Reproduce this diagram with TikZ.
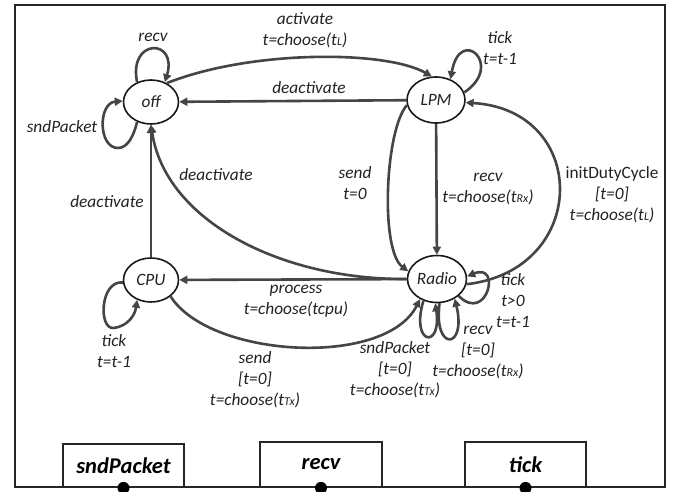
\documentclass[tikz,border=0pt]{standalone}
\usepackage{fontspec}
\setmainfont{Carlito}
\usetikzlibrary{shapes.geometric,arrows.meta}
\definecolor{edgec}{HTML}{454545}
\definecolor{txtc}{HTML}{222222}
\newcommand\lbl{\fontsize{17.3}{21}\selectfont\itshape}
\newcommand\bxf{\fontsize{22.5}{24}\selectfont\bfseries\itshape}
\newcommand\sx[1]{{\fontsize{12}{10}\selectfont #1}}
\tikzset{
  st/.style={ellipse, draw=black!90, line width=1.6pt, inner sep=0pt, font=\lbl, text=txtc},
  tr/.style={draw=edgec, line width=2.6pt, -{Triangle[length=8pt,width=8pt]}},
  lab/.style={align=center, font=\lbl, text=txtc, inner sep=0pt},
  bx/.style={draw=black!85, line width=1.8pt, inner sep=0pt, font=\bxf, text=black},
  dot/.style={circle, fill=black, inner sep=0pt, minimum size=12pt}
}
\begin{document}
\begin{tikzpicture}[x=1pt,y=-1pt]
\useasboundingbox (0,0) rectangle (673,491);
\clip (0,0) rectangle (673,491);
\fill[white] (0,0) rectangle (673,491);
\draw[line width=1.8pt, draw=black!85] (15,5) rectangle (665,487);

% states
\node[st, minimum width=55pt, minimum height=44pt] (off) at (151,102) {off};
\node[st, minimum width=58pt, minimum height=46pt] (lpm) at (436,100) {LPM};
\node[st, minimum width=55pt, minimum height=44pt] (cpu) at (151,280) {CPU};
\node[st, minimum width=59pt, minimum height=47pt] (radio) at (437,279) {Radio};

% bottom boxes
\node[bx, minimum width=121pt, minimum height=43pt] (bsp) at (123.5,465.5) {sndPacket};
\node[bx, minimum width=122pt, minimum height=45pt] (brv) at (321,464.5) {recv};
\node[bx, minimum width=121pt, minimum height=45pt] (btk) at (525.5,464.5) {tick};
\node[dot] (dsp) at (bsp.south) {};
\node[dot] (drv) at (brv.south) {};
\node[dot] (dtk) at (btk.south) {};

% transitions
\draw[tr] (off.125) .. controls (128,38) and (178,38) .. (off.55);
\draw[tr] (off.235) .. controls (134,135) and (128,148) .. (118,148)
          .. controls (98,148) and (98,103) .. (off.178);
\draw[tr] (off.50) .. controls (250,50) and (385,50) .. (lpm.100);
\draw[tr] (lpm) -- (off);
\draw[tr] (lpm.15) .. controls (505,65) and (460,25) .. (lpm.55);
\draw[tr] (lpm) -- (radio);
\draw[tr] (lpm.190) .. controls (385,130) and (380,250) .. (radio.165);
\draw[tr] (radio.350) .. controls (590,270) and (590,110) .. (lpm.355);
\draw[tr] (radio) -- (cpu);
\draw[tr] (radio.180) .. controls (280,280) and (165,220) .. (off.270);
\draw[tr] (cpu) -- (off);
\draw[tr] (cpu.185) .. controls (100,280) and (98,330) .. (114,328)
          .. controls (128,326) and (135,315) .. (cpu.235);
\draw[tr] (cpu.320) .. controls (210,358) and (385,368) .. (radio.230);
\draw[tr] (radio.238) .. controls (410,345) and (442,350) .. (radio.266);
\draw[tr] (radio.276) .. controls (433,352) and (467,350) .. (radio.312);
\draw[tr] (radio.322) .. controls (487,324) and (502,262) .. (radio.5);

% labels
\node[lab] (l1) at (153,37) {recv};
\node[lab] (l2) at (62,127) {sndPacket};
\node[lab] (l3) at (305,30.5) {activate\\t=choose(t\sx{L})};
\node[lab] (l4) at (309,88) {deactivate};
\node[lab] (l5) at (500,48.5) {tick\\t=t-1};
\node[lab] (l6) at (355,183) {send\\t=0};
\node[lab] (l7) at (488,189) {recv\\t=choose(t\sx{Rx})};
\node[lab] (l8) at (612,195) {\upshape initDutyCycle\\{}[t=0]\\t=choose(t\sx{L})};
\node[lab] (l9) at (216,175) {deactivate};
\node[lab] (l10) at (107,202) {deactivate};
\node[lab] (l11) at (296,301) {process\\t=choose(tcpu)};
\node[lab] (l12) at (114,351) {tick\\t=t-1};
\node[lab] (l13) at (255,380) {send\\{}[t=0]\\t=choose(t\sx{Tx})};
\node[lab] (l14) at (395,370) {sndPacket\\{}[t=0]\\t=choose(t\sx{Tx})};
\node[lab] (l15) at (478,352) {recv\\{}[t=0]\\t=choose(t\sx{Rx})};
\node[lab] (l16) at (513,301) {tick\\t>0\\t=t-1};
\end{tikzpicture}
\end{document}
